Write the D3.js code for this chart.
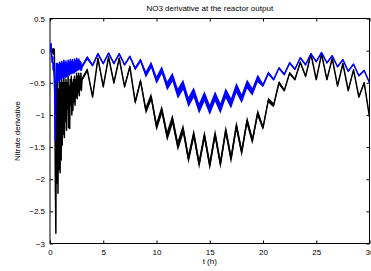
<!DOCTYPE html>
<meta charset="utf-8">
<style>
  body { margin: 0; background: #fff; }
  svg text { font-family: "Liberation Sans", Arial, Helvetica, sans-serif; fill: #000; }
  .axis path, .axis line { stroke: #000; }
</style>
<body>
<svg width="371" height="271"></svg>
<script src="https://d3js.org/d3.v7.min.js"></script>
<script>
// time samples (h): dense during start-up, then every half hour
var hours = [0, 0.05, 0.1, 0.15, 0.2, 0.25, 0.3, 0.35, 0.4, 0.45, 0.5, 0.55, 0.6, 0.65, 0.7, 0.75,
  0.8, 0.85, 0.9, 0.95, 1.0, 1.05, 1.1, 1.15, 1.2, 1.25, 1.3, 1.35, 1.4, 1.45, 1.5, 1.55,
  1.6, 1.65, 1.7, 1.75, 1.8, 1.85, 1.9, 1.95, 2.0, 2.05, 2.1, 2.15, 2.2, 2.25, 2.3, 2.35,
  2.4, 2.45, 2.5, 2.55, 2.6, 2.65, 2.7, 2.75, 2.8, 2.85, 2.9, 2.95, 3.0,
  3.5, 4, 4.5, 5, 5.5, 6, 6.5, 7, 7.5, 8, 8.5, 9, 9.5, 10, 10.5, 11, 11.5, 12, 12.5,
  13, 13.5, 14, 14.5, 15, 15.5, 16, 16.5, 17, 17.5, 18, 18.5, 19, 19.5, 20, 20.5,
  21, 21.5, 22, 22.5, 23, 23.5, 24, 24.5, 25, 25.5, 26, 26.5, 27, 27.5, 28, 28.5,
  29, 29.5, 30];

// blue curve
var blueVals = [0.0, 0.05, 0.11, -0.05, -0.18, -0.1, -0.3, -0.2, -0.45, -0.7, -1.4, -0.5, -0.2,
  -0.48, -0.2, -0.5, -0.22, -0.46, -0.18, -0.45, -0.2, -0.44, -0.17, -0.42, -0.2, -0.43,
  -0.15, -0.4, -0.18, -0.42, -0.16, -0.4, -0.2, -0.4, -0.15, -0.37, -0.18, -0.38, -0.14,
  -0.35, -0.17, -0.36, -0.14, -0.34, -0.18, -0.35, -0.13, -0.33, -0.16, -0.32, -0.12, -0.3,
  -0.15, -0.3, -0.13, -0.28, -0.16, -0.3, -0.18, -0.3, -0.25,
  -0.11, -0.23, -0.05, -0.2, -0.04, -0.2, -0.05, -0.22, -0.09, -0.28, -0.15, -0.37, -0.22,
  -0.46, -0.3, -0.55, -0.41, -0.67, -0.53, -0.8, -0.65, -0.9, -0.71, -0.92, -0.71, -0.9,
  -0.66, -0.82, -0.58, -0.75, -0.52, -0.64, -0.43, -0.54, -0.35, -0.45, -0.27, -0.37, -0.19,
  -0.29, -0.11, -0.22, -0.05, -0.17, -0.03, -0.19, -0.08, -0.25, -0.14, -0.32, -0.21, -0.39,
  -0.31, -0.5];

// black curve
var blackVals = [-0.02, 0.02, 0.0, -0.05, 0.02, -0.03, 0.03, -0.05, 0.02, -0.5, -2.0, -2.84, -0.5,
  -2.06, -0.45, -2.22, -0.6, -1.85, -0.4, -1.9, -0.5, -1.7, -0.45, -1.47, -0.5, -1.3, -0.4,
  -1.35, -0.5, -1.1, -0.45, -1.24, -0.5, -0.9, -0.4, -1.2, -0.55, -1.21, -0.45, -0.85, -0.4,
  -1.0, -0.5, -0.93, -0.45, -0.8, -0.4, -0.85, -0.45, -0.72, -0.35, -0.75, -0.4, -0.65,
  -0.35, -0.7, -0.4, -0.6, -0.35, -0.62, -0.45,
  -0.3, -0.72, -0.12, -0.56, -0.1, -0.5, -0.12, -0.56, -0.25, -0.8, -0.47, -0.93, -0.72, -1.18,
  -0.92, -1.33, -1.07, -1.48, -1.22, -1.68, -1.3, -1.76, -1.32, -1.78, -1.3, -1.76, -1.24, -1.68,
  -1.17, -1.58, -1.09, -1.4, -0.97, -1.2, -0.77, -0.85, -0.5, -0.62, -0.35, -0.45, -0.18,
  -0.4, -0.05, -0.45, -0.05, -0.45, -0.12, -0.55, -0.2, -0.62, -0.3, -0.72, -0.5, -1.03];

// half-width of the fast ripple band, one value per hour (0..30)
var blueSpread = [0.03, 0.03, 0.03, 0.03, 0.02, 0.02, 0.02, 0.02, 0.03, 0.05, 0.06, 0.07, 0.08,
  0.08, 0.08, 0.08, 0.08, 0.08, 0.07, 0.06, 0.03, 0.02, 0.02, 0.015, 0.015, 0.015, 0.015,
  0.015, 0.015, 0.015, 0.015];
var blackSpread = [0.02, 0.02, 0.02, 0.03, 0.03, 0.03, 0.03, 0.03, 0.04, 0.06, 0.07, 0.08, 0.08,
  0.08, 0.08, 0.08, 0.08, 0.08, 0.07, 0.06, 0.04, 0.03, 0.02, 0.02, 0.02, 0.02, 0.02, 0.02,
  0.02, 0.02, 0.02];

var xTicks = [0, 5, 10, 15, 20, 25, 30];
var yTicks = [-3, -2.5, -2, -1.5, -1, -0.5, 0, 0.5];

var svg = d3.select("svg");
var pLeft = 50, pRight = 369.5, pTop = 18.5, pBottom = 243.5;

var x = d3.scaleLinear().domain([0, 30]).range([pLeft, pRight]);
var y = d3.scaleLinear().domain([-3, 0.5]).range([pBottom, pTop]);

var fmt = d3.format("~g");

//축 그리기 (MATLAB 스타일: 안쪽 눈금, 네 면 모두)
svg.append("g").attr("class", "axis")
  .attr("transform", "translate(0," + pBottom + ")")
  .call(d3.axisBottom(x).tickValues(xTicks).tickFormat(fmt).tickSizeInner(-3).tickSizeOuter(0).tickPadding(6))
  .call(g => g.selectAll("text").style("font-size", "8px"));
svg.append("g").attr("class", "axis")
  .attr("transform", "translate(0," + pTop + ")")
  .call(d3.axisTop(x).tickValues(xTicks).tickFormat("").tickSizeInner(-3).tickSizeOuter(0));
svg.append("g").attr("class", "axis")
  .attr("transform", "translate(" + pLeft + ",0)")
  .call(d3.axisLeft(y).tickValues(yTicks).tickFormat(fmt).tickSizeInner(-3).tickSizeOuter(0).tickPadding(5))
  .call(g => g.selectAll("text").style("font-size", "8px"));
svg.append("g").attr("class", "axis")
  .attr("transform", "translate(" + pRight + ",0)")
  .call(d3.axisRight(y).tickValues(yTicks).tickFormat("").tickSizeInner(-3).tickSizeOuter(0));

svg.selectAll(".axis .domain").remove();
svg.append("rect")
  .attr("x", pLeft).attr("y", pTop)
  .attr("width", pRight - pLeft).attr("height", pBottom - pTop)
  .attr("fill", "none").attr("stroke", "#000").attr("stroke-width", 1);

//곡선 그리기
svg.append("clipPath").attr("id", "plotclip")
  .append("rect").attr("x", pLeft).attr("y", pTop).attr("width", pRight - pLeft).attr("height", pBottom - pTop);

function drawSeries(vals, spread, color) {
  var pts = hours.map((t, i) => ({ t: t, v: vals[i], s: spread[Math.min(30, Math.floor(t))] }));
  var g = svg.append("g").attr("clip-path", "url(#plotclip)");
  g.append("path").datum(pts)
    .attr("d", d3.area().x(d => x(d.t)).y0(d => y(d.v - d.s)).y1(d => y(d.v + d.s)))
    .attr("fill", color);
  g.append("path").datum(pts)
    .attr("d", d3.line().x(d => x(d.t)).y(d => y(d.v)))
    .attr("fill", "none").attr("stroke", color).attr("stroke-width", 1.5)
    .attr("stroke-linejoin", "round");
}

drawSeries(blackVals, blackSpread, "#000");
drawSeries(blueVals, blueSpread, "#0000ff");

//제목 및 축 레이블
svg.append("text")
  .attr("x", (pLeft + pRight) / 2).attr("y", 11)
  .attr("text-anchor", "middle").style("font-size", "8px")
  .text("NO3 derivative at the reactor output");
svg.append("text")
  .attr("x", (pLeft + pRight) / 2).attr("y", 264)
  .attr("text-anchor", "middle").style("font-size", "8px")
  .text("t (h)");
svg.append("text")
  .attr("transform", "translate(20," + ((pTop + pBottom) / 2) + ") rotate(-90)")
  .attr("text-anchor", "middle").style("font-size", "8px")
  .text("Nitrate derivative");
</script>
</body>
